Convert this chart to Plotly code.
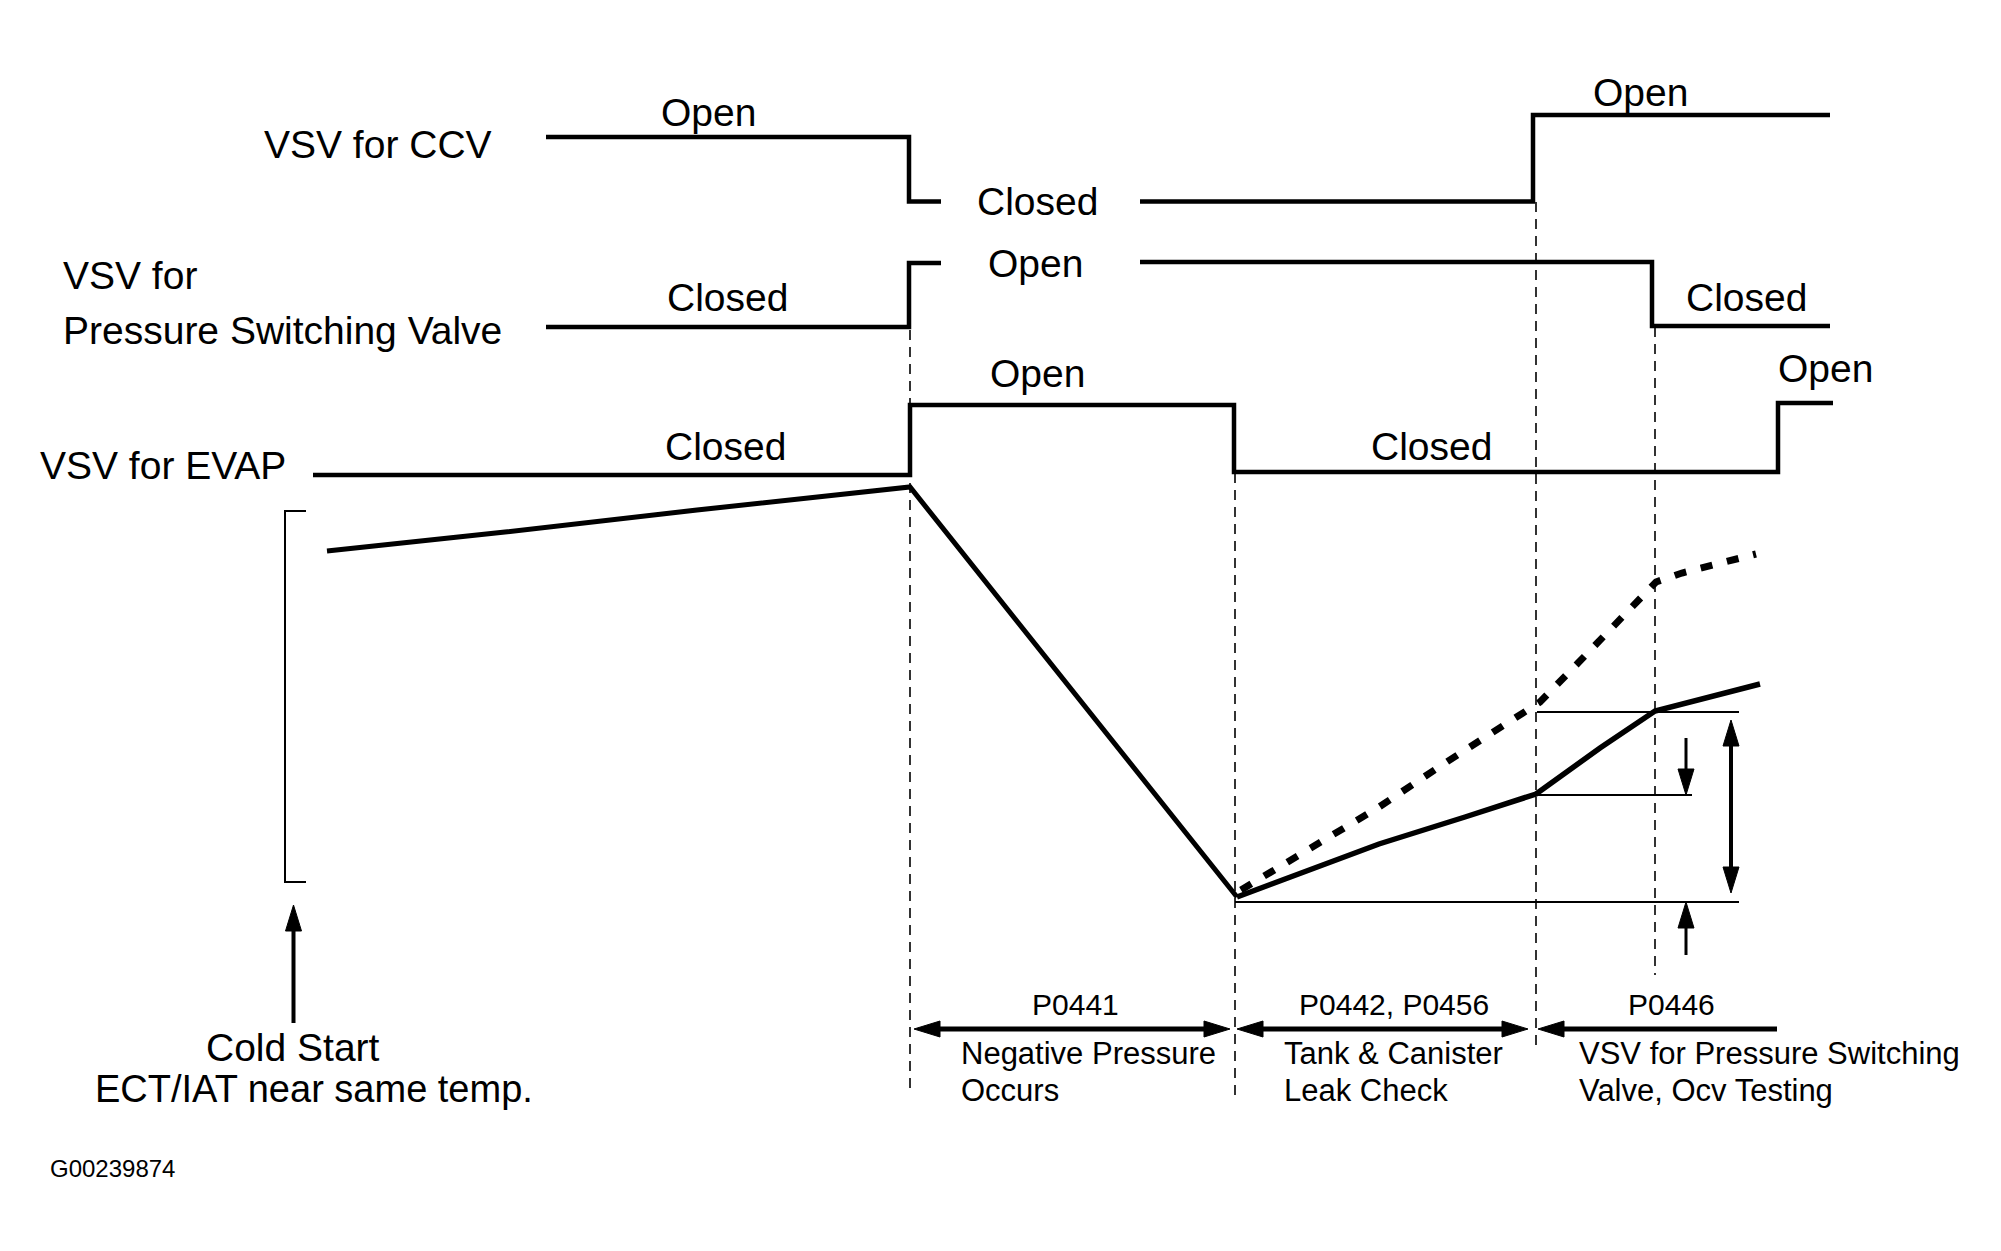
import plotly.graph_objects as go

# ---------------- data (diagram units: x = time, y = level, top-down) ----------------
# valve step traces; None breaks the line where the state label sits
ccv_t = [546, 909, 909, 941, None, 1140, 1533, 1533, 1830]
ccv_y = [137, 137, 201.5, 201.5, None, 201.5, 201.5, 115, 115]
psv_t = [546, 909, 909, 941, None, 1140, 1652, 1652, 1830]
psv_y = [327, 327, 263, 263, None, 262, 262, 326, 326]
evap_t = [313, 910, 910, 1234, 1234, 1778, 1778, 1833]
evap_y = [475, 475, 405, 405, 472, 472, 403, 403]

# tank pressure curve
press_t = [327, 505, 697, 910, 1237]
press_y = [551, 532, 510, 487, 897]
solid_t = [1237, 1379, 1465, 1536, 1600, 1655, 1760]
solid_y = [897, 844, 817, 794, 748, 711, 684]
dotted_t = [1241, 1307, 1379, 1445, 1491, 1540, 1578, 1617, 1656, 1682, 1707, 1730, 1756]
dotted_y = [890, 850, 807, 763, 733, 702, 663, 622, 582, 573, 567, 560, 554]

# phase boundaries (dashed verticals)
phase_t = [910, 1235, 1536, 1655]
phase_top = [330, 473, 202, 327]
phase_bot = [1093, 1095, 1050, 975]

# reference levels (thin horizontals)
ref_t0 = [1537, 1537, 1235]
ref_t1 = [1739, 1692, 1739]
ref_y = [712, 795, 902]

# cold-start bracket
bracket_t = [306, 285, 285, 306]
bracket_y = [511, 511, 882, 882]

# arrows: tail_t, tail_y, tip_t, tip_y, double-headed, shaft width
arrows = [
    (1686, 738, 1686, 795, False, 3),
    (1731, 893, 1731, 720, True, 4),
    (1686, 955, 1686, 902, False, 3),
    (1230, 1029, 914, 1029, True, 5),
    (1528, 1029, 1237, 1029, True, 5),
    (1777, 1029, 1538, 1029, False, 5),
    (293.5, 1023, 293.5, 905, False, 4),
]

# labels: text, t, y, size, anchor
labels = [
    ("VSV for CCV", 494, 144, 39, "right"),
    ("VSV for", 61, 275, 39, "left"),
    ("Pressure Switching Valve", 61, 330, 39, "left"),
    ("VSV for EVAP", 38, 465, 39, "left"),
    ("Open", 708, 112, 39, "center"),
    ("Closed", 1037, 201, 39, "center"),
    ("Open", 1640, 92, 39, "center"),
    ("Closed", 727, 297, 39, "center"),
    ("Open", 1035, 263, 39, "center"),
    ("Closed", 1746, 297, 39, "center"),
    ("Closed", 725, 446, 39, "center"),
    ("Open", 1037, 373, 39, "center"),
    ("Closed", 1431, 446, 39, "center"),
    ("Open", 1825, 368, 39, "center"),
    ("Cold Start", 293, 1047, 39, "center"),
    ("ECT/IAT near same temp.", 314, 1089, 38, "center"),
    ("G00239874", 48, 1168, 24, "left"),
    ("P0441", 1075, 1004, 30, "center"),
    ("Negative Pressure", 959, 1053, 31, "left"),
    ("Occurs", 959, 1090, 31, "left"),
    ("P0442, P0456", 1394, 1004, 30, "center"),
    ("Tank & Canister", 1282, 1053, 31, "left"),
    ("Leak Check", 1282, 1090, 31, "left"),
    ("P0446", 1671, 1004, 30, "center"),
    ("VSV for Pressure Switching", 1577, 1053, 31, "left"),
    ("Valve, Ocv Testing", 1577, 1090, 31, "left"),
]

# ---------------- drawing ----------------
BLACK = "black"
FONT = "Liberation Sans, Arial, Helvetica, sans-serif"
fig = go.Figure()


def line(xs, ys, width, dash="solid"):
    fig.add_trace(go.Scatter(x=xs, y=ys, mode="lines", hoverinfo="skip",
                             line=dict(color=BLACK, width=width, dash=dash),
                             showlegend=False, connectgaps=False))


for xs, ys in [(ccv_t, ccv_y), (psv_t, psv_y), (evap_t, evap_y)]:
    line(xs, ys, 4.5)

line(press_t, press_y, 5)
line(solid_t, solid_y, 5.5)
line(dotted_t, dotted_y, 7, dash="12px,15px")

for t, a, b in zip(phase_t, phase_top, phase_bot):
    line([t, t], [a, b], 1.6, dash="10px,7px")

for a, b, y in zip(ref_t0, ref_t1, ref_y):
    line([a, b], [y, y], 2)

line(bracket_t, bracket_y, 2)


def head(tx, ty, ux, uy, L=26, hw=8):
    bx, by = tx - ux * L, ty - uy * L
    px, py = -uy, ux
    fig.add_trace(go.Scatter(
        x=[tx, bx + px * hw, bx - px * hw, tx],
        y=[ty, by + py * hw, by - py * hw, ty],
        mode="lines", fill="toself", fillcolor=BLACK,
        line=dict(color=BLACK, width=1), hoverinfo="skip", showlegend=False))
    return bx, by


for x0, y0, x1, y1, both, w in arrows:
    dx, dy = x1 - x0, y1 - y0
    n = (dx * dx + dy * dy) ** 0.5
    ux, uy = dx / n, dy / n
    ex, ey = head(x1, y1, ux, uy)
    sx, sy = x0, y0
    if both:
        sx, sy = head(x0, y0, -ux, -uy)
    line([sx, ex], [sy, ey], w)

for text, x, y, size, anchor in labels:
    fig.add_annotation(x=x, y=y, text=text, showarrow=False, xanchor=anchor,
                       yanchor="middle", font=dict(family=FONT, size=size, color=BLACK))

fig.update_layout(
    width=2001, height=1251, autosize=False,
    margin=dict(l=0, r=0, t=0, b=0),
    paper_bgcolor="white", plot_bgcolor="white",
    xaxis=dict(range=[0, 2001], visible=False, fixedrange=True),
    yaxis=dict(range=[1251, 0], visible=False, fixedrange=True),
)

fig.write_html("out.html", include_plotlyjs=True,
               config={"displayModeBar": False, "staticPlot": True},
               post_script="document.body.style.margin='0';document.body.style.overflow='hidden';")
